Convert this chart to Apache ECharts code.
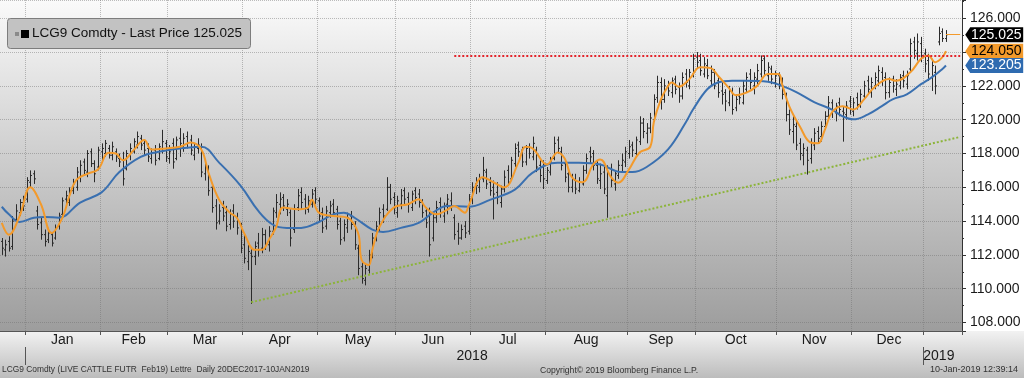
<!DOCTYPE html>
<html>
<head>
<meta charset="utf-8">
<script src="https://cdn.jsdelivr.net/npm/echarts@6/dist/echarts.min.js"></script>
<style>
html, body { margin: 0; padding: 0; background: #fff; }
#chart { width: 1024px; height: 378px; }
</style>
</head>
<body>
<div id="chart"></div>
<script>
// trading days per month, Dec 2017 (from the 20th) .. Jan 2019 (to the 10th), plus blank room at the right
var monthNames = ['Dec', 'Jan', 'Feb', 'Mar', 'Apr', 'May', 'Jun', 'Jul', 'Aug', 'Sep', 'Oct', 'Nov', 'Dec', 'Jan', ''];
var monthDays = [7, 21, 19, 21, 21, 22, 21, 21, 23, 19, 23, 21, 20, 7, 4];
var yearNames = ['2018', '2019'];
var yearStartDay = [7, 259];
var yearLabelDay = [132, 263];

var opens = [112.8,112.3,112.8,112.5,114.1,114.5,115.1,115.3,116.3,116.8,114.6,113.9,113.2,112.9,113.2,113.0,113.7,114.4,115.3,115.1,
115.8,116.0,116.6,117.5,116.9,118.1,117.4,117.2,118.1,118.0,118.3,117.9,118.1,117.7,117.6,117.1,117.9,118.1,118.5,118.9,
118.6,118.3,117.7,118.2,117.7,118.3,118.6,117.7,118.6,117.7,118.9,118.4,119.0,118.8,117.9,118.3,118.4,116.8,117.0,116.0,
114.9,114.0,114.8,114.5,113.8,114.6,114.2,113.8,112.6,111.6,112.1,111.9,112.7,112.4,113.2,112.6,113.4,114.5,115.0,115.4,
114.7,114.5,113.5,114.8,115.7,115.3,114.7,115.0,115.8,115.2,114.5,113.7,114.5,115.0,114.7,114.0,113.0,113.6,114.3,113.7,
112.4,111.3,110.5,111.1,112.0,113.0,113.6,114.7,114.7,116.0,115.4,114.5,115.0,115.8,115.4,114.8,115.8,115.6,115.1,114.6,
114.3,113.0,114.2,115.1,114.3,115.0,115.2,114.2,113.4,113.0,113.7,113.4,115.3,116.2,116.0,116.5,116.9,116.3,116.0,115.7,
115.1,115.9,117.0,116.5,117.4,118.5,118.2,117.5,118.4,117.8,118.2,117.3,117.2,116.4,116.9,117.7,118.8,118.1,117.4,116.8,
116.0,116.4,115.8,116.2,117.0,118.1,118.0,117.3,116.4,116.9,115.5,117.1,116.2,116.7,117.3,117.5,118.0,118.5,118.0,118.7,
119.8,119.2,119.5,120.0,121.3,122.2,121.2,122.0,121.6,122.4,121.9,121.4,122.7,122.0,122.7,123.7,123.5,122.7,123.2,122.3,
122.8,122.3,121.7,121.6,121.0,121.6,120.7,121.4,121.0,121.8,122.7,122.0,122.4,122.7,123.6,122.6,123.0,122.2,122.6,122.2,
121.4,120.3,119.3,119.6,118.6,117.9,118.2,117.7,118.5,119.3,119.0,119.6,120.2,121.0,120.4,121.0,120.5,120.3,121.1,120.5,
121.3,120.9,121.4,122.3,121.6,122.0,122.3,122.8,122.5,121.6,122.4,121.8,122.0,122.6,122.1,123.0,124.6,123.9,124.5,123.9,
123.5,122.5,122.8,124.6,125.2,124.8];
var highs = [113.0,112.9,113.1,114.3,115.0,115.3,115.5,116.6,117.0,117.0,114.9,114.2,113.5,113.6,113.3,113.8,114.5,115.4,115.8,116.0,
116.5,117.2,117.6,117.7,118.2,118.3,117.6,118.4,118.6,118.8,118.5,118.7,118.3,118.0,118.1,118.2,118.6,118.9,119.3,119.1,
118.8,118.6,118.3,118.5,118.6,119.4,118.8,118.5,118.9,119.0,119.5,119.2,119.3,119.1,118.6,118.9,118.6,117.6,117.3,116.2,
115.3,115.0,115.2,114.9,114.7,115.0,114.5,113.9,113.2,112.6,112.4,112.8,113.3,113.6,113.5,113.7,114.8,115.6,115.7,115.6,
115.3,114.7,115.0,115.9,116.0,115.6,115.5,115.9,116.0,115.4,114.8,114.9,115.2,115.3,114.9,114.2,114.1,114.5,114.6,114.0,
112.6,111.6,111.5,112.3,113.3,114.0,114.8,115.0,116.6,116.2,115.7,115.5,115.9,116.0,115.7,115.8,116.0,115.9,115.3,114.8,
114.8,114.5,115.2,115.4,115.1,115.6,115.7,114.4,113.9,113.8,114.0,115.6,116.3,116.6,116.8,117.8,117.1,116.6,116.4,116.3,
116.1,117.0,117.3,117.8,118.6,118.7,118.4,118.5,118.6,119.0,118.4,117.6,117.6,117.2,117.8,119.0,119.0,118.4,117.6,117.0,
116.8,116.8,116.6,117.3,118.0,118.4,118.2,117.6,117.4,117.2,117.3,117.4,117.0,117.6,118.0,118.4,118.8,118.7,119.0,120.2,
120.1,119.8,120.4,121.5,122.6,122.5,122.4,122.3,122.5,122.6,122.2,122.8,123.0,123.0,123.9,124.0,123.9,123.7,123.6,123.2,
123.0,122.6,122.2,121.8,122.0,121.9,121.5,121.9,122.3,122.8,123.0,122.8,123.3,123.8,123.8,123.4,123.2,122.9,122.8,122.5,
121.6,120.6,120.3,120.0,118.9,118.6,118.4,118.9,119.5,119.6,119.9,120.5,121.4,121.2,121.0,121.3,120.8,121.1,121.4,121.3,
121.6,121.8,122.3,122.6,122.5,122.8,123.2,123.1,122.8,122.5,122.6,122.4,122.7,122.9,122.9,124.8,124.9,125.1,124.9,124.2,
123.9,123.6,123.2,125.5,125.4,125.3];
var lows = [112.0,111.9,112.2,112.3,113.9,114.3,114.6,115.1,116.0,116.2,113.5,112.9,112.5,112.7,112.5,112.9,113.5,114.2,115.0,114.9,
115.6,115.8,116.3,116.7,116.6,117.2,116.3,117.0,117.6,117.8,117.7,117.6,117.5,117.2,116.1,117.0,117.6,118.0,118.3,118.2,
117.9,117.5,117.4,117.3,117.6,118.0,117.5,117.4,117.1,117.6,117.8,118.1,118.3,117.9,117.6,118.0,116.6,116.4,115.5,114.5,
113.5,113.8,114.0,113.4,113.5,113.6,113.2,112.1,111.5,111.1,109.1,111.4,111.9,112.1,112.3,112.2,113.2,114.2,114.4,114.6,
114.3,112.5,113.3,114.6,114.7,114.4,114.5,114.8,115.0,114.0,113.3,113.5,114.2,114.3,113.5,112.6,112.8,113.3,113.5,112.3,
110.8,110.3,110.2,110.9,111.8,112.8,113.4,113.9,114.6,115.0,114.4,114.2,114.7,115.0,114.5,114.6,115.0,114.8,114.2,113.6,
111.9,112.8,113.9,114.2,113.9,114.4,114.6,112.9,112.6,112.9,113.0,113.2,115.0,115.6,115.7,116.3,115.9,115.5,114.1,115.0,
114.8,115.7,116.1,116.4,117.2,117.8,117.2,117.3,117.7,117.6,116.9,116.3,115.9,116.2,116.7,117.6,118.0,117.0,116.3,115.7,
115.7,115.6,115.7,116.1,116.8,117.4,117.0,116.2,115.9,115.6,114.2,116.0,115.8,116.5,116.9,117.2,117.7,117.8,117.9,118.5,
118.9,118.6,119.2,119.9,121.0,120.6,121.0,121.4,121.3,121.5,121.0,121.2,121.9,121.8,122.5,123.0,122.6,122.5,122.4,122.0,
121.8,121.3,120.9,120.5,120.8,120.3,120.5,120.9,120.9,121.6,121.8,121.5,122.1,122.5,122.6,122.3,122.1,121.9,121.8,121.2,
119.9,119.1,118.6,118.2,117.6,117.3,116.75,117.4,118.2,118.6,118.7,119.4,120.0,120.1,119.9,120.2,118.7,120.0,120.3,120.2,
120.6,120.7,121.2,121.5,121.3,121.8,122.0,122.0,121.2,121.3,121.6,121.4,121.8,121.9,121.8,122.8,123.6,123.5,123.4,122.8,
122.3,121.7,121.5,124.4,124.6,124.6];
var closes = [112.4,112.6,112.4,114.0,114.6,115.1,114.9,116.4,116.7,116.5,113.8,113.2,112.8,113.3,112.7,113.6,114.3,115.2,115.5,115.8,
116.2,116.9,117.3,117.0,118.0,117.4,116.8,118.2,118.3,118.6,117.9,118.4,117.8,117.5,116.5,118.0,118.3,118.7,119.0,118.5,
118.2,117.8,118.0,117.6,118.4,118.7,117.8,118.1,117.5,118.8,118.6,118.9,118.6,118.2,118.4,118.5,116.9,117.2,115.8,114.8,
113.9,114.6,114.3,113.7,114.4,114.0,113.6,112.4,111.8,112.2,111.9,112.5,112.3,113.2,112.6,113.4,114.6,115.1,115.3,114.9,
115.0,113.0,114.7,115.5,115.1,114.8,115.2,115.6,115.3,114.3,113.6,114.6,114.9,114.5,113.8,112.9,113.8,114.2,113.8,112.6,
111.2,110.6,111.2,112.0,113.0,113.7,114.5,114.3,116.0,115.3,114.8,115.2,115.5,115.3,115.0,115.6,115.4,115.1,114.5,113.9,
112.6,114.2,114.8,114.5,114.9,115.3,114.9,113.2,113.0,113.5,113.3,115.3,116.0,116.1,116.5,117.0,116.2,115.8,115.6,115.4,
115.9,116.6,116.3,117.6,118.3,118.1,117.5,118.3,118.0,118.6,117.2,116.7,116.5,117.0,117.5,118.6,118.3,117.3,116.6,116.0,
116.5,115.9,116.3,117.0,117.7,117.8,117.3,116.5,116.8,115.9,116.9,116.4,116.8,117.3,117.6,118.1,118.4,118.2,118.8,119.8,
119.3,119.5,120.1,121.2,122.2,121.2,122.0,121.7,122.3,121.8,121.4,122.5,122.2,122.8,123.6,123.4,122.9,123.3,122.6,122.8,
122.0,121.6,121.5,121.1,121.7,120.6,121.2,121.3,122.0,122.5,122.2,122.5,122.9,123.5,122.9,123.1,122.4,122.6,122.1,121.5,
120.3,119.4,119.7,118.5,118.0,118.3,117.6,118.6,119.2,118.9,119.6,120.2,121.0,120.5,120.8,120.6,120.4,120.8,120.6,121.0,
120.9,121.5,122.0,121.8,122.2,122.5,122.9,122.3,121.6,122.2,122.0,122.1,122.5,122.3,122.6,124.5,124.1,124.6,123.8,123.3,
122.7,123.2,122.0,125.1,124.8,125.025];

// moving averages: [trading day, value]
var fastMA = [[0,113.9],[2,113.2],[5,114.3],[8,116.0],[11,115.0],[14,113.3],[17,114.2],[19,115.5],[21,116.45],[24,116.8],
[27,117.05],[30,118.05],[32,118.0],[34,117.6],[37,118.2],[40,118.8],[42,118.24],[46,118.3],[50,118.4],[53,118.65],
[56,118.24],[58,116.87],[61,115.26],[64,114.5],[66,114.2],[68,113.3],[71,112.3],[73,112.3],[75,112.9],[77,113.65],
[79,114.8],[83,114.7],[86,114.8],[87,115.26],[89,114.5],[93,114.3],[97,114.2],[100,113.3],[101,111.7],[103,111.4],
[104,112.3],[106,113.65],[110,114.8],[114,115.0],[117,115.3],[119,114.8],[122,114.4],[125,114.67],[127,114.9],[130,114.5],
[131,114.9],[135,116.6],[138,116.3],[141,116.0],[145,117.46],[147,118.4],[149,118.3],[153,117.35],[156,118.06],[158,117.7],
[160,116.6],[163,116.3],[166,117.35],[168,117.64],[171,116.6],[173,116.27],[176,117.05],[179,118.06],[182,118.4],[183,119.85],
[185,121.2],[187,121.99],[188,122.2],[190,121.95],[193,122.4],[196,123.1],[199,123.05],[201,122.6],[204,121.9],[206,121.45],
[209,121.6],[212,122.0],[215,122.7],[218,122.7],[219,122.1],[221,120.8],[224,119.6],[227,118.65],[229,118.6],[231,119.4],
[233,120.44],[236,120.8],[239,120.6],[242,121.2],[245,121.93],[249,122.4],[251,122.3],[255,122.8],[258,123.6],[260,123.8],
[262,123.4],[264,123.7],[265,124.05]];
var slowMA = [[0,114.85],[2,114.4],[5,113.95],[9,114.2],[12,114.25],[16,114.2],[22,115.1],[28,115.7],[33,116.9],[39,117.8],
[44,118.1],[50,118.3],[56,118.4],[61,117.46],[67,116.1],[72,114.6],[76,113.8],[80,113.6],[84,113.6],[89,113.95],
[93,114.4],[96,114.5],[99,114.2],[104,113.5],[107,113.36],[112,113.6],[117,113.9],[121,114.5],[125,114.9],[131,114.85],
[137,115.26],[144,115.86],[149,116.87],[156,117.46],[162,117.46],[168,117.35],[174,116.9],[177,116.9],[181,117.2],[187,118.24],
[192,119.85],[194,120.6],[198,121.8],[201,122.2],[205,122.3],[209,122.3],[215,122.25],[219,122.0],[223,121.63],[228,121.04],
[233,120.6],[236,120.2],[239,120.02],[243,120.3],[247,120.8],[250,121.2],[254,121.5],[258,122.1],[261,122.5],[264,123.0],
[265,123.205]];

var lastPrice = 125.025, lastFast = 124.05, lastSlow = 123.205;
var resistanceLine = [[127, 123.8], [269, 123.8]];
var supportLine = [[70, 109.2], [269, 118.98]];

var FONT = '"Liberation Sans", Arial, sans-serif';

var days = [], monthStart = {}, monthLabel = {};
monthNames.forEach(function (m, k) {
  if (k >= 1 && k <= 13) monthStart[days.length] = true;
  if (k >= 1 && k <= 12) monthLabel[days.length + Math.floor(monthDays[k] / 2)] = m;
  for (var j = 0; j < monthDays[k]; j++) days.push(m + '-' + k + '-' + j);
});
var yearLabel = {};
yearNames.forEach(function (y, k) { yearLabel[yearLabelDay[k]] = y; });

var bars = closes.map(function (c, i) { return [i, opens[i], highs[i], lows[i], c]; });

function renderBar(params, api) {
  var i = api.value(0);
  var pO = api.coord([i, api.value(1)]);
  var pH = api.coord([i, api.value(2)]);
  var pL = api.coord([i, api.value(3)]);
  var pC = api.coord([i, api.value(4)]);
  var w = api.size([1, 0])[0] * 0.42;
  var x = Math.round(pH[0]) + 0.5;
  var st = { stroke: '#2b2b2b', lineWidth: 1 };
  return {
    type: 'group',
    children: [
      { type: 'line', shape: { x1: x, y1: pH[1], x2: x, y2: pL[1] }, style: st },
      { type: 'line', shape: { x1: x - w, y1: pO[1], x2: x, y2: pO[1] }, style: st },
      { type: 'line', shape: { x1: x, y1: pC[1], x2: x + w, y2: pC[1] }, style: st }
    ]
  };
}

var tagPath = 'path://M0,7L5,0L58,0L58,14L5,14Z';
function tag(value, bg, fg) {
  return {
    coord: [269, value], value: value,
    symbol: tagPath, symbolSize: [58, 15], symbolOffset: [34, 0],
    itemStyle: { color: bg },
    label: { show: true, position: 'inside', offset: [2, 0], color: fg, fontSize: 14, fontFamily: FONT,
      formatter: function (p) { return p.value.toFixed(3); } }
  };
}

var graphics = [
  { type: 'rect', z: -10, shape: { x: 0, y: 0, width: 962, height: 331 },
    style: { fill: new echarts.graphic.LinearGradient(0, 0, 0, 1, [{ offset: 0, color: '#fafafa' }, { offset: 1, color: '#9d9d9d' }]) } },
  { type: 'rect', z: -10, shape: { x: 0, y: 331, width: 1024, height: 47 },
    style: { fill: new echarts.graphic.LinearGradient(0, 0, 0, 1, [{ offset: 0, color: '#f2f2f2' }, { offset: 1, color: '#bcbcbc' }]) } },
  { type: 'rect', z: 10, shape: { x: 7.5, y: 18.5, width: 243, height: 30, r: 3 },
    style: { fill: '#c2c2c2', stroke: '#7d7d7d', lineWidth: 1 } },
  { type: 'rect', z: 11, shape: { x: 15, y: 32, width: 4, height: 4 }, style: { fill: '#8a8a8a' } },
  { type: 'rect', z: 11, shape: { x: 21, y: 30, width: 8, height: 8 }, style: { fill: '#000' } },
  { type: 'text', z: 11, left: 32, top: 26,
    style: { text: 'LCG9 Comdty - Last Price 125.025', font: '13.5px ' + FONT, fill: '#111' } },
  { type: 'text', left: 2, top: 366,
    style: { text: 'LCG9 Comdty (LIVE CATTLE FUTR  Feb19) Lettre  Daily 20DEC2017-10JAN2019', font: '8.4px ' + FONT, fill: '#333' } },
  { type: 'text', left: 540, top: 366,
    style: { text: 'Copyright\u00a9 2019 Bloomberg Finance L.P.', font: '8.6px ' + FONT, fill: '#333' } },
  { type: 'text', right: 6, top: 365.5,
    style: { text: '10-Jan-2019 12:39:14', font: '9px ' + FONT, fill: '#333' } }
];

var chart = echarts.init(document.getElementById('chart'));
chart.setOption({
  animation: false,
  backgroundColor: '#fff',
  graphic: graphics,
  grid: { left: 0, right: 62, top: 0, bottom: 47, containLabel: false },
  xAxis: [{
    type: 'category', data: days, boundaryGap: true, position: 'bottom',
    axisLine: { show: true, lineStyle: { color: '#555', width: 1 } },
    axisTick: { show: true, length: 4, interval: function (i) { return !!monthStart[i]; }, lineStyle: { color: '#555' } },
    axisLabel: { interval: function (i) { return monthLabel[i] !== undefined; },
      formatter: function (v, i) { return monthLabel[i] || ''; },
      margin: 2, color: '#1a1a1a', fontSize: 14, fontFamily: FONT },
    splitLine: { show: true, interval: function (i) { return !!monthStart[i]; },
      lineStyle: { color: 'rgba(110,110,110,0.45)', type: 'dotted', width: 1 } }
  }, {
    type: 'category', data: days, boundaryGap: true, position: 'bottom', offset: 16,
    axisLine: { show: false },
    axisTick: { show: false },
    axisLabel: { interval: function (i) { return yearLabel[i] !== undefined; },
      formatter: function (v, i) { return yearLabel[i] || ''; },
      margin: 2, color: '#1a1a1a', fontSize: 14, fontFamily: FONT },
    splitLine: { show: false }
  }],
  yAxis: {
    type: 'value', position: 'right', min: 107.5, max: 127.08, splitNumber: 10, scale: true,
    axisLine: { show: true, lineStyle: { color: '#333' } },
    axisTick: { show: true, length: 4, lineStyle: { color: '#333' } },
    minorTick: { show: true, splitNumber: 2, length: 2, lineStyle: { color: '#333' } },
    axisLabel: { showMinLabel: false, showMaxLabel: false, margin: 8, color: '#1a1a1a', fontSize: 14, fontFamily: FONT,
      formatter: function (v) { return v.toFixed(3); } },
    splitLine: { show: true, lineStyle: { color: 'rgba(110,110,110,0.45)', type: 'dotted', width: 1 } }
  },
  series: [{
    name: 'LCG9 Comdty', type: 'custom', renderItem: renderBar, data: bars,
    encode: { x: 0, y: [1, 2, 3, 4] }, z: 2
  }, {
    name: 'slow', type: 'line', data: slowMA, smooth: 0.4, showSymbol: false, z: 3,
    lineStyle: { color: '#3a70b0', width: 2 }
  }, {
    name: 'fast', type: 'line', data: fastMA, smooth: 0.4, showSymbol: false, z: 4,
    lineStyle: { color: '#f39a2b', width: 2 }
  }, {
    name: 'marks', type: 'line', data: [], z: 5, silent: true,
    markLine: {
      symbol: 'none', silent: true, animation: false, label: { show: false },
      data: [
        [{ coord: resistanceLine[0], lineStyle: { color: '#e3242b', type: 'dotted', width: 2 } }, { coord: resistanceLine[1] }],
        [{ coord: supportLine[0], lineStyle: { color: '#8cb43a', type: 'dotted', width: 2 } }, { coord: supportLine[1] }],
        [{ coord: [265, lastPrice], lineStyle: { color: '#f39a2b', type: 'solid', width: 1 } }, { coord: [269, lastPrice] }]
      ]
    },
    markPoint: {
      silent: true, animation: false,
      data: [tag(lastPrice, '#000', '#fff'), tag(lastFast, '#f39a2b', '#000'), tag(lastSlow, '#2f6bb0', '#fff')]
    }
  }]
});

// year separators under the month row, placed with the axis scale
var band = chart.convertToPixel({ xAxisIndex: 0 }, 1) - chart.convertToPixel({ xAxisIndex: 0 }, 0);
var axisY = chart.convertToPixel({ yAxisIndex: 0 }, 107.5);
yearStartDay.forEach(function (d) {
  var x = Math.round(chart.convertToPixel({ xAxisIndex: 0 }, d) - band / 2) + 0.5;
  graphics.push({ type: 'line', shape: { x1: x, y1: axisY + 16, x2: x, y2: axisY + 34 },
    style: { stroke: '#555', lineWidth: 1 } });
});
chart.setOption({ graphic: graphics });
</script>
</body>
</html>
